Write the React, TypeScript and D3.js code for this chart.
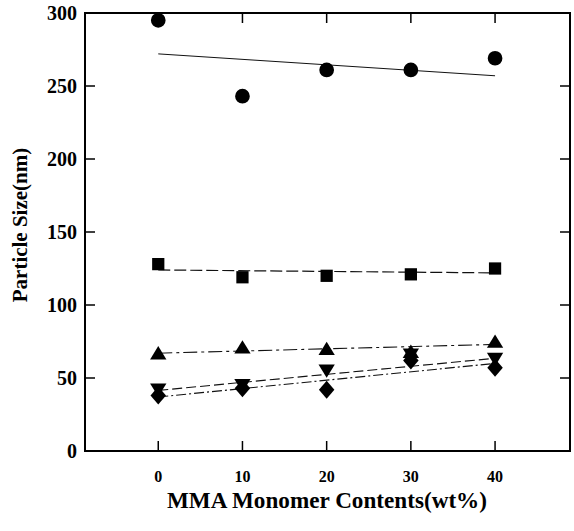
import React, { useRef, useEffect } from "react";
import * as d3 from "d3";

// MMA content (wt%)
const contents = [0, 10, 20, 30, 40];

// particle sizes (nm) per series
const circleSizes = [295, 243, 261, 261, 269];
const squareSizes = [128, 119, 120, 121, 125];
const triangleSizes = [67, 71, 70, 68, 75];
const downTriangleSizes = [42, 45, 55, 66, 63];
const diamondSizes = [38, 43, 42, 62, 57];

// fitted trend lines: value at 0 and at 40 wt%
const fitEnds = [0, 40];
const circleFit = [272, 257];
const squareFit = [124, 122];
const triangleFit = [67, 73];
const downTriangleFit = [41.5, 63.5];
const diamondFit = [37, 60];

const xTicks = [0, 10, 20, 30, 40];
const yTicks = [0, 50, 100, 150, 200, 250, 300];

const width = 574;
const height = 531;

const App: React.FC = () => {
	const svgRef = useRef<SVGSVGElement | null>(null);

	useEffect(() => {
		if (!svgRef.current) return;
		const svg = d3.select(svgRef.current);
		svg.selectAll("*").remove();

		const left = 85, right = 570, top = 13, bottom = 451;
		const x = d3.scaleLinear().domain([-8.7, 48.9]).range([left, right]);
		const y = d3.scaleLinear().domain([0, 300]).range([bottom, top]);
		const font = "'Liberation Serif', 'Times New Roman', serif";

		// frame
		svg.append("rect")
			.attr("x", left).attr("y", top)
			.attr("width", right - left).attr("height", bottom - top)
			.attr("fill", "none").attr("stroke", "#000").attr("stroke-width", 2);

		// inward ticks on all four sides
		const tl = 10;
		const ticks = svg.append("g").attr("stroke", "#000").attr("stroke-width", 1.5);
		xTicks.forEach((t) => {
			ticks.append("line").attr("x1", x(t)).attr("x2", x(t)).attr("y1", bottom).attr("y2", bottom - tl);
			ticks.append("line").attr("x1", x(t)).attr("x2", x(t)).attr("y1", top).attr("y2", top + tl);
		});
		yTicks.forEach((t) => {
			ticks.append("line").attr("x1", left).attr("x2", left + tl).attr("y1", y(t)).attr("y2", y(t));
			ticks.append("line").attr("x1", right).attr("x2", right - tl).attr("y1", y(t)).attr("y2", y(t));
		});

		// tick labels
		svg.append("g").selectAll("text").data(yTicks).enter().append("text")
			.attr("x", 77).attr("y", (d) => y(d) + 7)
			.attr("text-anchor", "end")
			.attr("font-family", font).attr("font-weight", "bold").attr("font-size", 20)
			.text((d) => d);

		svg.append("g").selectAll("text").data(xTicks).enter().append("text")
			.attr("x", (d) => x(d)).attr("y", 482)
			.attr("text-anchor", "middle")
			.attr("font-family", font).attr("font-weight", "bold").attr("font-size", 16)
			.text((d) => d);

		// axis titles
		svg.append("text")
			.attr("x", 327).attr("y", 508)
			.attr("text-anchor", "middle")
			.attr("font-family", font).attr("font-weight", "bold").attr("font-size", 23)
			.attr("textLength", 320).attr("lengthAdjust", "spacingAndGlyphs")
			.text("MMA Monomer Contents(wt%)");

		svg.append("text")
			.attr("transform", "translate(27,225) rotate(-90)")
			.attr("text-anchor", "middle")
			.attr("font-family", font).attr("font-weight", "bold").attr("font-size", 21)
			.text("Particle Size(nm)");

		// fit lines
		const fits = [
			{ v: circleFit, dash: null, w: 1 },
			{ v: squareFit, dash: "12,4", w: 1.2 },
			{ v: triangleFit, dash: "14,4,3,4", w: 1.1 },
			{ v: downTriangleFit, dash: "10,4", w: 1.1 },
			{ v: diamondFit, dash: "10,3,2,3", w: 1.1 },
		];
		const line = d3.line<number>().x((_, i) => x(fitEnds[i])).y((d) => y(d));
		fits.forEach((f) => {
			svg.append("path")
				.attr("d", line(f.v))
				.attr("fill", "none").attr("stroke", "#111")
				.attr("stroke-width", f.w)
				.attr("stroke-dasharray", f.dash);
		});

		// markers
		const symTriDown = {
			draw(ctx: d3.Path, size: number) {
				const s = Math.sqrt(size);
				ctx.moveTo(-s * 0.55, -s * 0.42);
				ctx.lineTo(s * 0.55, -s * 0.42);
				ctx.lineTo(0, s * 0.48);
				ctx.closePath();
			},
		};
		const symTriUp = {
			draw(ctx: d3.Path, size: number) {
				const s = Math.sqrt(size);
				ctx.moveTo(-s * 0.55, s * 0.42);
				ctx.lineTo(s * 0.55, s * 0.42);
				ctx.lineTo(0, -s * 0.48);
				ctx.closePath();
			},
		};
		const symDiamond = {
			draw(ctx: d3.Path, size: number) {
				const s = Math.sqrt(size);
				ctx.moveTo(0, -s * 0.58);
				ctx.lineTo(s * 0.5, 0);
				ctx.lineTo(0, s * 0.58);
				ctx.lineTo(-s * 0.5, 0);
				ctx.closePath();
			},
		};
		const series = [
			{ v: circleSizes, sym: d3.symbolCircle, size: 170 },
			{ v: squareSizes, sym: d3.symbolSquare, size: 150 },
			{ v: triangleSizes, sym: symTriUp, size: 220 },
			{ v: downTriangleSizes, sym: symTriDown, size: 220 },
			{ v: diamondSizes, sym: symDiamond, size: 240 },
		];
		series.forEach((s) => {
			const sym = d3.symbol().type(s.sym as d3.SymbolType).size(s.size);
			svg.append("g").selectAll("path").data(s.v).enter().append("path")
				.attr("transform", (d, i) => `translate(${x(contents[i])},${y(d)})`)
				.attr("d", sym)
				.attr("fill", "#000");
		});
	}, []);

	return (
		<svg
			ref={svgRef}
			width={width}
			height={height}
			style={{ position: "absolute", left: 0, top: 0, background: "#fff" }}
		/>
	);
};

export default App;
